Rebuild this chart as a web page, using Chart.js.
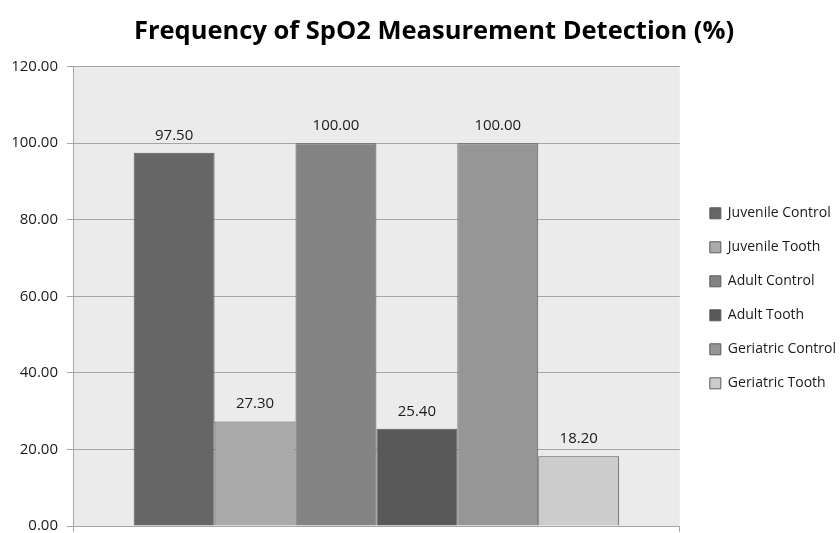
<!DOCTYPE html>
<html>
<head>
<meta charset="utf-8">
<script src="https://cdn.jsdelivr.net/npm/chart.js@4"></script>
<style>
  html, body { margin: 0; padding: 0; background: #ffffff; }
  #wrap { width: 840px; height: 533px; }
</style>
</head>
<body>
<div id="wrap"><canvas id="spo2Chart"></canvas></div>
<script>
const groups = ["Juvenile Control", "Juvenile Tooth", "Adult Control", "Adult Tooth", "Geriatric Control", "Geriatric Tooth"];
const detection = [97.5, 27.3, 100.0, 25.4, 100.0, 18.2];
const barColors = ["#666666", "#aaaaaa", "#838383", "#595959", "#969696", "#cccccc"];
const yTicks = [0, 20, 40, 60, 80, 100, 120];

const FONT = "'Open Sans', 'Liberation Sans', sans-serif";

/* plot area background */
const plotBackground = {
  id: "plotBackground",
  beforeDraw(chart) {
    const { ctx, chartArea: a } = chart;
    ctx.save();
    ctx.fillStyle = "#ebebeb";
    ctx.fillRect(a.left, a.top, a.right - a.left, a.bottom - a.top);
    ctx.restore();
  }
};

/* nudge title and legend to where the original sits */
const boxNudge = {
  id: "boxNudge",
  afterLayout(chart) {
    if (chart.titleBlock) chart.titleBlock.left += 28;
    if (chart.legend) {
      chart.legend.left += 10;
      chart.legend.right += 10;
      chart.legend.top += 2;
      chart.legend.bottom += 2;
    }
  }
};

/* value labels above bars */
const valueLabels = {
  id: "valueLabels",
  afterDatasetsDraw(chart) {
    const { ctx } = chart;
    ctx.save();
    ctx.font = "15px " + FONT;
    ctx.fillStyle = "#1a1a1a";
    ctx.textAlign = "center";
    ctx.textBaseline = "bottom";
    chart.data.datasets.forEach((ds, i) => {
      const bar = chart.getDatasetMeta(i).data[0];
      if (!bar) return;
      ctx.fillText(ds.data[0].toFixed(2), bar.x, bar.y - 10);
    });
    ctx.restore();
  }
};

new Chart(document.getElementById("spo2Chart"), {
  type: "bar",
  data: {
    labels: [""],
    datasets: groups.map((g, i) => ({
      label: g,
      data: [detection[i]],
      backgroundColor: barColors[i],
      borderColor: "#5a5a5a",
      borderWidth: 1,
      barPercentage: 1,
      categoryPercentage: 0.8
    }))
  },
  options: {
    responsive: true,
    maintainAspectRatio: false,
    animation: false,
    layout: { padding: { left: 4, right: 4, top: 0, bottom: 0 } },
    plugins: {
      title: {
        display: true,
        text: "Frequency of SpO2 Measurement Detection (%)",
        color: "#000000",
        font: { family: FONT, size: 25.5, weight: "bold" },
        padding: { top: 16, bottom: 20 }
      },
      legend: {
        position: "right",
        align: "center",
        fullSize: false,
        labels: {
          color: "#1a1a1a",
          font: { family: FONT, size: 14 },
          boxWidth: 11,
          boxHeight: 11,
          padding: 20
        }
      },
      tooltip: { enabled: false }
    },
    scales: {
      y: {
        min: 0,
        max: 120,
        afterBuildTicks: axis => {
          axis.ticks = yTicks.map(v => ({ value: v }));
        },
        afterFit: axis => {
          axis.width = 69;
          axis.paddingTop = 0;
          axis.paddingBottom = 0;
        },
        ticks: {
          color: "#1a1a1a",
          font: { family: FONT, size: 15 },
          padding: 9,
          callback: v => v.toFixed(2)
        },
        grid: { color: "#a6a6a6", tickLength: 6, tickColor: "#a6a6a6" },
        border: { color: "#a6a6a6" }
      },
      x: {
        afterFit: axis => {
          axis.height = 7;
          axis.paddingLeft = 0;
          axis.paddingRight = 0;
        },
        ticks: { display: false },
        grid: { drawOnChartArea: false, tickLength: 6, color: "#a6a6a6" },
        border: { color: "#a6a6a6" }
      }
    }
  },
  plugins: [plotBackground, boxNudge, valueLabels]
});
</script>
</body>
</html>
